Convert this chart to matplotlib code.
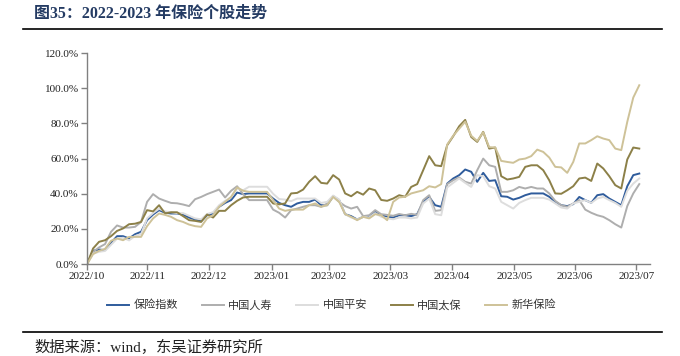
import numpy as np
import matplotlib
matplotlib.use("Agg")
import matplotlib.pyplot as plt
from matplotlib.lines import Line2D
from matplotlib.ticker import FuncFormatter

plt.rcParams['font.family'] = ['Noto Sans CJK SC', 'DejaVu Sans']

# roughly every 2 trading days, 2022/10 -> 2023/07, cumulative return in %
ins_index = [0, 7.6, 8.3, 8.0, 12.1, 15.9, 15.9, 14.6, 17.0, 18.4, 25.0, 28.2, 30.7, 29.2, 28.8, 28.8, 28.2, 26.5, 25.4, 24.4,
             27.8, 28.8, 32.6, 34.8, 36.4, 40.7, 39.8, 40.2, 40.2, 40.2, 40.2, 37.3, 34.8, 33.5, 32.6, 34.5, 35.4, 35.4, 36.7, 33.5,
             33.5, 38.6, 36.4, 28.4, 27.3, 25.4, 26.9, 26.9, 29.7, 27.8, 26.9, 26.5, 27.8, 27.8, 27.3, 28.4, 35.4, 38.2, 33.5, 32.6,
             45.8, 48.7, 50.6, 53.8, 52.5, 46.8, 51.9, 47.3, 47.7, 38.6, 38.3, 36.7, 37.7, 39.2, 40.2, 40.2, 40.2, 38.3, 35.4, 33.5,
             33.0, 34.1, 38.2, 36.4, 34.9, 39.2, 39.8, 37.3, 35.4, 33.5, 44.3, 50.6, 51.5]
china_life = [0, 7.0, 9.5, 11.4, 18.4, 22.0, 20.8, 20.8, 21.2, 24.0, 35.4, 39.8, 37.3, 36.0, 34.8, 34.6, 33.9, 33.0, 36.9, 38.2,
              39.8, 41.1, 42.4, 37.9, 41.7, 44.3, 39.8, 36.4, 36.4, 36.4, 36.4, 31.0, 29.2, 26.5, 30.7, 31.6, 32.6, 33.5, 33.5, 32.6,
              34.5, 38.6, 35.4, 33.0, 31.6, 32.6, 27.3, 27.8, 30.7, 28.4, 28.0, 27.5, 28.5, 27.8, 28.6, 28.0, 36.4, 39.2, 30.3, 30.7,
              45.5, 47.7, 49.2, 46.8, 45.8, 53.4, 60.0, 56.2, 55.3, 41.1, 41.1, 42.0, 43.9, 43.0, 43.9, 43.0, 43.0, 40.2, 36.0, 33.5,
              32.6, 34.5, 36.4, 31.0, 29.2, 27.8, 26.9, 25.0, 22.7, 20.8, 33.0, 40.2, 45.5]
ping_an = [0, 6.0, 7.0, 7.5, 11.0, 14.5, 15.0, 13.5, 16.0, 17.0, 26.0, 29.0, 31.5, 30.0, 29.5, 29.0, 29.0, 27.5, 26.0, 25.5,
           28.5, 29.5, 33.5, 36.0, 38.0, 43.0, 42.0, 44.0, 44.0, 44.0, 44.0, 40.0, 37.0, 36.7, 35.8, 37.3, 37.3, 37.3, 37.3, 34.8,
           35.4, 39.0, 36.7, 28.4, 26.5, 25.4, 26.9, 26.5, 29.0, 26.9, 26.0, 25.5, 26.5, 26.5, 26.0, 26.5, 34.5, 37.3, 28.4, 27.8,
           43.6, 46.2, 48.7, 46.2, 43.9, 50.6, 50.0, 44.3, 43.0, 35.4, 33.5, 31.6, 34.8, 36.4, 37.7, 37.7, 37.7, 36.7, 34.5, 32.2,
           31.6, 34.5, 35.4, 36.4, 34.8, 37.3, 38.2, 36.4, 34.8, 32.6, 41.7, 45.8, 48.7]
cpic = [0, 8.9, 12.7, 13.6, 15.9, 18.9, 20.3, 22.7, 23.0, 24.0, 30.7, 30.0, 33.5, 28.8, 29.5, 29.5, 27.3, 25.0, 24.6, 24.0,
        28.2, 26.5, 30.3, 30.3, 33.5, 36.0, 37.9, 38.3, 38.3, 38.3, 38.3, 34.5, 34.0, 34.5, 40.2, 40.5, 42.4, 46.8, 50.0, 46.2,
        45.8, 50.6, 48.1, 40.2, 38.6, 41.1, 39.5, 43.0, 42.0, 36.5, 36.0, 37.3, 39.2, 38.3, 43.9, 45.5, 53.4, 61.4, 56.2, 55.7,
        67.6, 72.7, 78.4, 82.0, 72.3, 69.5, 75.2, 65.7, 66.3, 50.0, 48.1, 48.7, 49.6, 55.3, 56.2, 56.2, 53.4, 47.7, 40.2, 40.0,
        42.0, 44.3, 48.7, 49.2, 47.3, 57.2, 54.4, 50.0, 44.9, 43.0, 59.5, 66.3, 65.7]
nci = [0, 5.7, 7.6, 8.7, 13.3, 14.6, 13.6, 15.5, 15.5, 15.5, 21.6, 26.0, 28.8, 28.0, 26.9, 25.0, 24.0, 22.5, 21.6, 21.2,
       26.0, 27.8, 32.6, 35.4, 38.2, 43.6, 41.7, 41.1, 41.1, 41.1, 41.1, 36.4, 31.6, 30.3, 31.0, 31.0, 31.0, 33.5, 34.5, 32.6,
       33.5, 38.2, 35.4, 28.4, 26.9, 25.0, 26.9, 26.0, 28.4, 27.8, 25.0, 35.4, 37.9, 38.3, 40.2, 41.1, 42.0, 44.3, 43.6, 45.5,
       68.0, 73.0, 77.0, 81.0, 73.0, 70.0, 75.0, 66.5, 66.3, 58.7, 58.1, 57.6, 59.5, 60.0, 61.4, 65.1, 63.8, 60.6, 55.3, 55.0,
       51.9, 58.1, 68.6, 68.6, 70.5, 72.7, 71.4, 70.5, 65.7, 64.8, 80.9, 94.7, 101.7]

month_labels = ['2022/10', '2022/11', '2022/12', '2023/01', '2023/02', '2023/03',
                '2023/04', '2023/05', '2023/06', '2023/07']
month_pos = [0, 10, 20.3, 30.8, 40.3, 50.5, 60.8, 71.2, 81.3, 91.5]

names = ['保险指数', '中国人寿', '中国平安', '中国太保', '新华保险']
series = [ins_index, china_life, ping_an, cpic, nci]
colors = ['#2F5C9C', '#AEAEAE', '#DDDDDD', '#8C8048', '#CEC298']

fig = plt.figure(figsize=(6.8, 3.56), dpi=100)
ax = fig.add_axes([0.128, 0.258, 0.828, 0.593])

days = np.arange(len(ins_index))
for name, vals, c in zip(names, series, colors):
    ax.plot(days, vals, color=c, lw=1.4, label=name)

ax.set_xlim(0, 93.8)
ax.set_ylim(0, 120)
ax.set_yticks(np.arange(0, 121, 20))
ax.yaxis.set_major_formatter(FuncFormatter(lambda v, p: f'{v:.1f}%'))
ax.set_xticks(month_pos)
ax.set_xticklabels(month_labels)

for s in ['top', 'right']:
    ax.spines[s].set_visible(False)
for s in ['left', 'bottom']:
    ax.spines[s].set_color('#808080')
    ax.spines[s].set_linewidth(1.0)
ax.tick_params(axis='both', direction='out', length=4, width=1, color='#808080',
               labelsize=8, labelcolor='#222222', pad=2)
for t in ax.get_xticklabels() + ax.get_yticklabels():
    t.set_fontfamily('Liberation Serif')

fig.legend(loc='center', bbox_to_anchor=(0.488, 0.143), ncol=5, frameon=False,
           fontsize=8, handlelength=2.0, handletextpad=0.4, columnspacing=2.1,
           labelcolor='#333333')

# header / footer
fig.text(34 / 680, 1 - 14 / 356, '图35：2022-2023 年保险个股走势', fontsize=11.5, fontweight='bold',
         color='#243B63', va='center', ha='left', family=['Liberation Serif', 'Noto Sans CJK SC'])
fig.add_artist(Line2D([23 / 680, 662 / 680], [1 - 29 / 356] * 2, color='black', lw=1.2))
fig.add_artist(Line2D([23 / 680, 662 / 680], [1 - 332 / 356] * 2, color='black', lw=1.2))
fig.text(34 / 680, 1 - 347 / 356, '数据来源：wind，东吴证券研究所', fontsize=11,
         color='#222222', va='center', ha='left', family=['Liberation Serif', 'Noto Sans CJK SC'])

fig.savefig('out.png', dpi=100)
